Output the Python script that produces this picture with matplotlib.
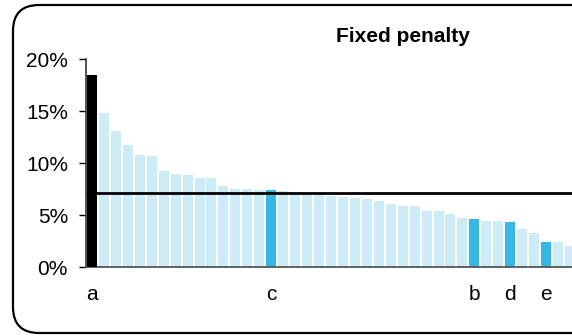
import matplotlib.pyplot as plt
from matplotlib.patches import FancyBboxPatch

plt.rcParams['font.family'] = ['Liberation Sans', 'DejaVu Sans']

# valores de las barras (%), ordenados de mayor a menor
valores = [18.45, 14.84, 13.1, 11.76, 10.8, 10.7, 9.26, 8.97, 8.88, 8.59,
           8.59, 7.82, 7.53, 7.53, 7.43, 7.43, 7.34, 7.2, 7.15, 7.0,
           6.86, 6.75, 6.66, 6.56, 6.37, 6.08, 5.89, 5.89, 5.41, 5.41,
           5.12, 4.74, 4.64, 4.45, 4.45, 4.36, 3.68, 3.30, 2.43, 2.43,
           2.05]
promedio = 7.17
etiquetas = {0: 'a', 15: 'c', 32: 'b', 35: 'd', 38: 'e'}
destacadas = [15, 32, 35, 38]
yticks = [0, 5, 10, 15, 20]

fig = plt.figure(figsize=(5.72, 3.36), dpi=100)

# marco redondeado
fondo = fig.add_axes([0, 0, 1, 1])
fondo.set_xlim(0, 572)
fondo.set_ylim(336, 0)
fondo.axis('off')
marco = FancyBboxPatch((13, 5), 620, 328, boxstyle='round,pad=0,rounding_size=26',
                       fc='white', ec='black', lw=1.6, clip_on=False)
fondo.add_patch(marco)

ax = fig.add_axes([86 / 572, 68.7 / 336, 1 - 86 / 572, 208 / 336])
ax.patch.set_alpha(0)

x = list(range(len(valores)))
colores = ['#CCECF8'] * len(valores)
for i in destacadas:
    colores[i] = '#33B8E8'
colores[0] = 'black'

barras = ax.bar(x, valores, width=0.84, color=colores, zorder=1)
barras[0].set_zorder(3)

ax.axhline(promedio, color='black', lw=2.0, zorder=2)

ax.set_xlim(-0.5, 40.17)
ax.set_ylim(0, 20)
ax.set_yticks(yticks)
ax.set_yticklabels([f'{v}%' for v in yticks], fontsize=15)
ax.set_xticks(list(etiquetas.keys()))
ax.set_xticklabels(list(etiquetas.values()), fontsize=15)
ax.tick_params(axis='x', length=0, pad=13)
ax.tick_params(axis='y', length=5, width=1, pad=8, colors='black')

for lado in ['top', 'right']:
    ax.spines[lado].set_visible(False)
ax.spines['left'].set_color('#444444')
ax.spines['left'].set_linewidth(1.3)
ax.spines['bottom'].set_color('#555555')
ax.spines['bottom'].set_linewidth(1.3)

fig.text(403 / 572, 1 - 41.7 / 336, 'Fixed penalty', fontsize=15, fontweight='bold',
         ha='center', va='baseline')

fig.savefig('out.png', dpi=100)
